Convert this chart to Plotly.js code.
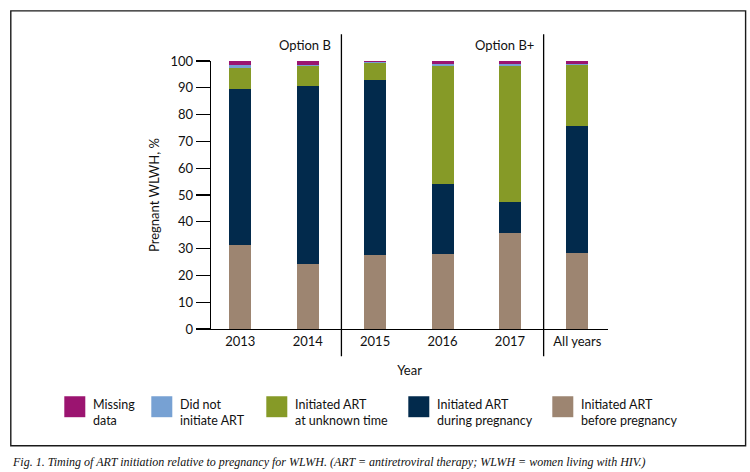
<!DOCTYPE html>
<html>
<head>
<meta charset="utf-8">
<script src="https://cdn.plot.ly/plotly-3.0.1.min.js"></script>
<style>html,body{margin:0;padding:0;background:#fff;}#chart{width:750px;height:472px;}</style>
</head>
<body>
<div id="chart"></div>
<script>
// ---- data ----
var categories = ['2013', '2014', '2015', '2016', '2017', 'All years'];
var beforePregnancy = [31.4, 24.4, 27.8, 28.0, 35.9, 28.4];
var duringPregnancy = [58.1, 66.2, 65.0, 26.1, 11.5, 47.3];
var unknownTime     = [7.9, 7.7, 6.6, 44.0, 50.7, 22.7];
var didNotInitiate  = [1.0, 0.2, 0.3, 0.8, 0.8, 0.5];
var missingData     = [1.6, 1.5, 0.3, 1.1, 1.1, 1.1];
var yTicks = [0, 10, 20, 30, 40, 50, 60, 70, 80, 90, 100];
var groupLabels = ['Option B', 'Option B+'];
var legendLabels = ['Missing<br>data', 'Did not<br>initiate ART', 'Initiated ART<br>at unknown time', 'Initiated ART<br>during pregnancy', 'Initiated ART<br>before pregnancy'];
var caption = 'Fig. 1. Timing of ART initiation relative to pregnancy for WLWH. (ART = antiretroviral therapy; WLWH = women living with HIV.)';

// ---- styles ----
var colors = {
  missing: '#9b1470',
  notInit: '#77a1d3',
  unknown: '#869a27',
  during: '#022a4c',
  before: '#9d8571'
};
var FONT = 'Lato, "Open Sans", sans-serif';

// plot-area geometry (pixels)
var L = 210.7, R = 607.7, T = 60.7, B = 329.3;
var W = 750, H = 472;
function px(x) { return (x - L) / (R - L); }
function py(y) { return (B - y) / (B - T); }

var series = [
  {name: 'Initiated ART before pregnancy', y: beforePregnancy, color: colors.before},
  {name: 'Initiated ART during pregnancy', y: duringPregnancy, color: colors.during},
  {name: 'Initiated ART at unknown time', y: unknownTime, color: colors.unknown},
  {name: 'Did not initiate ART', y: didNotInitiate, color: colors.notInit},
  {name: 'Missing data', y: missingData, color: colors.missing}
];
var xIdx = categories.map(function (c, i) { return i; });
var traces = series.map(function (s) {
  return {
    type: 'bar', name: s.name, x: xIdx, y: s.y, width: 0.326,
    marker: {color: s.color, line: {width: 0}},
    showlegend: false, hoverinfo: 'name+y'
  };
});

var shapes = [];
var annotations = [];
// frame
shapes.push({type: 'rect', xref: 'paper', yref: 'paper',
  x0: px(10.5), x1: px(745.3), y0: py(446.3), y1: py(10.5),
  line: {color: '#1a1a1a', width: 1.4}, fillcolor: 'rgba(0,0,0,0)'});
// separators
[1.5, 4.5].forEach(function (xs, i) {
  shapes.push({type: 'line', xref: 'x', yref: 'paper', x0: xs, x1: xs,
    y0: py(356.7), y1: py(34), line: {color: '#000', width: 1.3}});
  annotations.push({xref: 'x', yref: 'paper', x: xs, y: py(45), xanchor: 'right', yanchor: 'middle',
    xshift: -8, showarrow: false, text: groupLabels[i], font: {family: FONT, size: 13, color: '#111'}});
});
// legend (manual)
var legendColors = [colors.missing, colors.notInit, colors.unknown, colors.during, colors.before];
var legendX = [64, 151, 266, 408, 552];
legendLabels.forEach(function (lab, i) {
  var x0 = legendX[i];
  shapes.push({type: 'rect', xref: 'paper', yref: 'paper',
    x0: px(x0), x1: px(x0 + 21), y0: py(417.7), y1: py(396.7),
    line: {width: 0}, fillcolor: legendColors[i]});
  annotations.push({xref: 'paper', yref: 'paper', x: px(x0 + 27), y: py(395), xanchor: 'left', yanchor: 'top',
    align: 'left', showarrow: false, text: lab, font: {family: FONT, size: 12.5, color: '#111'}});
});
// caption
annotations.push({xref: 'paper', yref: 'paper', x: px(10), y: py(463), xanchor: 'left', yanchor: 'middle',
  showarrow: false, text: '<i>' + caption + '</i>',
  font: {family: '"Liberation Serif", "DejaVu Serif", serif', size: 12, color: '#111'}});

var layout = {
  width: W, height: H,
  margin: {l: L, r: W - R, t: T, b: H - B, pad: 0},
  paper_bgcolor: '#fff', plot_bgcolor: '#fff',
  barmode: 'stack',
  showlegend: false,
  font: {family: FONT, size: 13, color: '#111'},
  xaxis: {
    range: [-0.435, 5.455],
    tickmode: 'array', tickvals: xIdx, ticktext: categories,
    ticks: '', showgrid: false, zeroline: false,
    showline: true, linecolor: '#000', linewidth: 1.3,
    tickfont: {family: FONT, size: 13, color: '#111'},
    title: {text: 'Year', font: {family: FONT, size: 13, color: '#111'}, standoff: 18},
    fixedrange: true
  },
  yaxis: {
    range: [0, 100],
    tickmode: 'array', tickvals: yTicks,
    ticks: 'outside', ticklen: 14, tickwidth: 1.3, tickcolor: '#000',
    showgrid: false, zeroline: false,
    showline: true, linecolor: '#000', linewidth: 1.3,
    tickfont: {family: FONT, size: 13, color: '#111'},
    title: {text: 'Pregnant WLWH, %', font: {family: FONT, size: 13, color: '#111'}, standoff: 8},
    fixedrange: true
  },
  shapes: shapes,
  annotations: annotations
};

Plotly.newPlot('chart', traces, layout, {displayModeBar: false, staticPlot: true});
</script>
</body>
</html>
